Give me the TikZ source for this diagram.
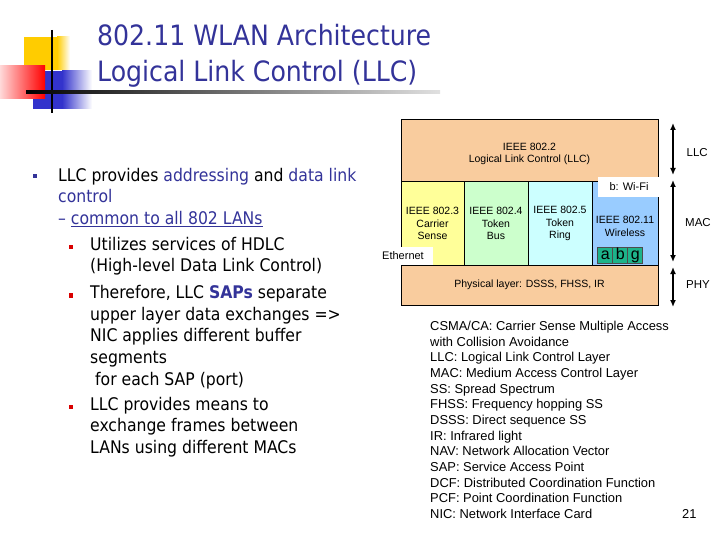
\documentclass[tikz,border=0pt]{standalone}
\usepackage{fontspec}
\setmainfont{Liberation Sans}
\newfontfamily\tahoma{DejaVu Sans Condensed}
\usepackage{xcolor}
\definecolor{slideblue}{HTML}{333399}
\definecolor{logoblue}{HTML}{3333CC}
\definecolor{logoyellow}{HTML}{FFCC00}
\definecolor{llcpeach}{HTML}{F9CC9E}
\definecolor{csyellow}{HTML}{FFFF99}
\definecolor{tbgreen}{HTML}{CCFFCC}
\definecolor{trcyan}{HTML}{CCFFFF}
\definecolor{wlblue}{HTML}{99CCFF}
\definecolor{abgteal}{HTML}{1DB38A}
\usepackage{tikz}
\usetikzlibrary{arrows.meta,positioning}

\tikzset{
  layer/.style={draw,line width=1pt,inner sep=0pt,outer sep=0pt,anchor=north west,align=center,
                font=\fontsize{10.5}{12.5}\selectfont},
  layertext/.style={inner sep=0pt,align=center,font=\fontsize{10.5}{12.5}\selectfont},
  patch/.style={fill=white,inner sep=0pt,outer sep=0pt,anchor=north west,font=\fontsize{11}{13}\selectfont},
  abgcell/.style={draw=black!70,fill=abgteal,line width=0.8pt,minimum width=15pt,minimum height=16pt,
                  inner sep=0pt,outer sep=0pt,text height=11.5pt,text depth=3.5pt,
                  font=\fontsize{16}{16}\selectfont},
  dblarrow/.style={<->,line width=1.6pt,>={Latex[length=7pt,width=6pt]}},
  sidelab/.style={anchor=base west,inner sep=0pt,font=\fontsize{11.5}{13}\selectfont},
  bodytext/.style={anchor=base west,inner sep=0pt,font=\tahoma\fontsize{17.4}{20}\selectfont},
  gloss/.style={anchor=base west,inner sep=0pt,font=\fontsize{12.9}{15}\selectfont},
  bulletsq/.style={inner sep=0pt,minimum size=4.5pt}
}

\begin{document}
\begin{tikzpicture}[x=1pt,y=-1pt]
  \useasboundingbox (0,0) rectangle (720,540);

  % logo
  \fill[logoyellow] (24,37) rectangle (57,70);
  \shade[left color=logoyellow,right color=white] (57,37) rectangle (70,70);
  \fill[logoblue] (33,71) rectangle (62,109);
  \shade[left color=logoblue,right color=white] (62,71) rectangle (92,109);
  \shade[left color=red!15,right color=red] (0,66) rectangle (45,99);
  \draw[line width=2pt] (51.7,30) -- (51.7,113);
  \shade[left color=black,right color=black!12] (26,91) rectangle (440,94);

  % title
  \node[anchor=base west,inner sep=0pt,text=slideblue,font=\tahoma\fontsize{28}{32}\selectfont]
    (title1) at (97,46) {802.11 WLAN Architecture};
  \node[anchor=base west,inner sep=0pt,text=slideblue,font=\tahoma\fontsize{28}{32}\selectfont]
    (title2) at (97,81.7) {Logical Link Control (LLC)};

  % bullets
  \node[bulletsq,fill=slideblue] (d1) at (35,176) {};
  \node[bodytext] (t1) at (58,181.2) {LLC provides \textcolor{slideblue}{addressing} and \textcolor{slideblue}{data link}};
  \node[bodytext] (t2) at (58,202.8) {\textcolor{slideblue}{control}};
  \node[bodytext] (t3) at (58,224.4) {\textcolor{slideblue}{– \underline{common to all 802 LANs}}};
  \node[bulletsq,fill=red!85!black] (d2) at (71,247.2) {};
  \node[bodytext] (t4) at (90,250) {Utilizes services of HDLC};
  \node[bodytext] (t5) at (90,271.7) {(High-level Data Link Control)};
  \node[bulletsq,fill=red!85!black] (d3) at (71,295.5) {};
  \node[bodytext] (t6) at (90,298.3) {Therefore, LLC \textcolor{slideblue}{\textbf{SAPs}} separate};
  \node[bodytext] (t7) at (90,320) {upper layer data exchanges =>};
  \node[bodytext] (t8) at (90,341.7) {NIC applies different buffer};
  \node[bodytext] (t9) at (90,363.3) {segments};
  \node[bodytext] (t10) at (95,385) {for each SAP (port)};
  \node[bulletsq,fill=red!85!black] (d4) at (71,407.2) {};
  \node[bodytext] (t11) at (90,410) {LLC provides means to};
  \node[bodytext] (t12) at (90,431.7) {exchange frames between};
  \node[bodytext] (t13) at (90,453.3) {LANs using different MACs};

  % layer stack
  \node[layer,fill=llcpeach,minimum width=257pt,minimum height=62pt] (llc) at (401,120) {};
  \node[layertext] (llctext) at ([shift={(0,3)}]llc.center) {IEEE 802.2\\Logical Link Control (LLC)};
  \node[layer,fill=csyellow,minimum width=63pt,minimum height=83pt] (c3) at (401,182)
    {IEEE 802.3\\Carrier\\Sense};
  \node[layer,fill=tbgreen,minimum width=64pt,minimum height=83pt] (c4) at (464,182)
    {IEEE 802.4\\Token\\Bus};
  \node[layer,fill=trcyan,minimum width=64pt,minimum height=83pt] (c5) at (528,182)
    {IEEE 802.5\\Token\\Ring};
  \node[layer,fill=wlblue,minimum width=66pt,minimum height=83pt] (c11) at (592,182) {};
  \node[layertext] (c11text) at ([shift={(0,3)}]c11.center) {IEEE 802.11\\Wireless};
  \node[layer,fill=llcpeach,minimum width=257pt,minimum height=40pt] (phy) at (401,265)
    {Physical layer: DSSS, FHSS, IR};
  \node[patch,minimum width=62pt,minimum height=20pt] (wifi) at (598,177) {b: Wi-Fi};
  \node[patch,minimum width=60pt,minimum height=18pt] (eth) at (373,247) {Ethernet};
  \node[abgcell,anchor=north west] (ca) at (597.7,247.7) {a};
  \node[abgcell,right=0pt of ca] (cb) {b};
  \node[abgcell,right=0pt of cb] (cg) {g};

  % layer arrows
  \draw[dblarrow] ([shift={(15,3)}]llc.north east) -- ([shift={(15,-7)}]llc.south east);
  \draw[dblarrow] ([shift={(15,-2)}]c11.north east) -- ([shift={(15,-3)}]c11.south east);
  \draw[dblarrow] ([shift={(15,2)}]phy.north east) -- ([shift={(15,2)}]phy.south east);
  \node[sidelab] (llclab) at (686.5,156.7) {LLC};
  \node[sidelab] (maclab) at (685,226.7) {MAC};
  \node[sidelab] (phylab) at (686,288.3) {PHY};

  % glossary
  \foreach \txt [count=\i from 0] in {CSMA/CA: Carrier Sense Multiple Access,with Collision Avoidance,
      LLC: Logical Link Control Layer,MAC: Medium Access Control Layer,SS: Spread Spectrum,
      FHSS: Frequency hopping SS,DSSS: Direct sequence SS,IR: Infrared light,
      NAV: Network Allocation Vector,SAP: Service Access Point,DCF: Distributed Coordination Function,
      PCF: Point Coordination Function,NIC: Network Interface Card}
    \node[gloss] (g\i) at (430,330.7+15.64*\i) {\txt};
  \node[gloss] (pagenum) at (682,518.3) {21};
\end{tikzpicture}
\end{document}
